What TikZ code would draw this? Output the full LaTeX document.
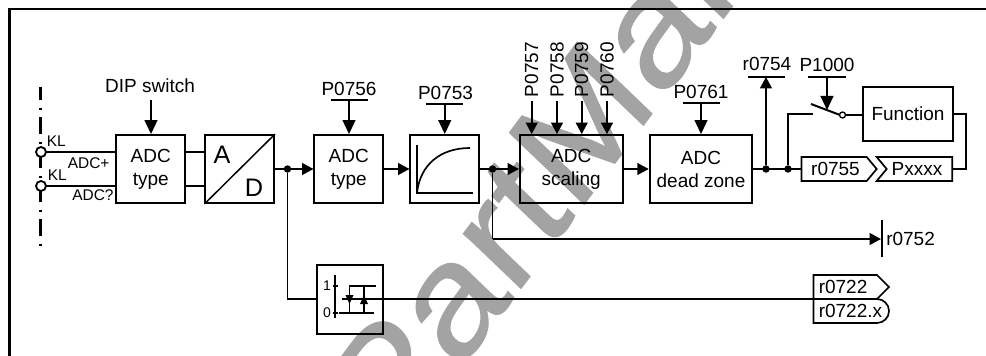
\documentclass[tikz,border=0pt]{standalone}
\usepackage{fontspec}
\setmainfont{Liberation Sans}
\newfontfamily\wmf[FakeBold=0.8]{Liberation Sans}
\usetikzlibrary{arrows.meta,calc}
\newcommand{\fnorm}{\fontsize{14.25}{17.25}\selectfont}
\newcommand{\fsmall}{\fontsize{11.6}{14}\selectfont}
\newcommand{\flarge}{\fontsize{19}{22}\selectfont}
\tikzset{
  wire/.style={line width=1.25pt},
  fblock/.style={draw,line width=1.4pt,inner sep=0pt,align=center,font=\fnorm,minimum height=51pt},
  lab/.style={inner sep=0pt,font=\fnorm},
  slab/.style={inner sep=0pt,font=\fsmall},
  arr/.style={wire,-{Triangle[length=8.5pt,width=8.8pt]}},
  arb/.style={wire,-{Triangle[length=10.5pt,width=9.6pt]}},
  bar/.style={wire},
  dotj/.style={circle,fill=black,inner sep=0pt,minimum size=5.6pt},
  term/.style={circle,draw,fill=white,line width=1.4pt,inner sep=0pt,minimum size=7.5pt},
  tagline/.style={line width=1.25pt,line join=miter},
  wmark/.style={inner sep=0pt,text=black!36,font=\wmf\fontsize{113}{113}\selectfont},
}
\begin{document}
\begin{tikzpicture}[x=0.75pt,y=-0.75pt]
\useasboundingbox (0,0) rectangle (986,356);
% watermark
\begin{scope}[shift={(390,463)},cm={.672,.896,-.72,.69,(0,0)},transform shape]
\node[wmark,anchor=base west] (wm) at (0,0) {PartMan};
\end{scope}
% frame
\coordinate (fb) at (9.5,356); \coordinate (fc) at (9.5,9); \coordinate (fr) at (986,9);
\draw[line width=1.9pt] (fb) -- (fc) -- (fr);
% dash-dot terminal line
\coordinate (dt) at (40.5,87); \coordinate (db) at (40.5,248);
\draw[line width=1.6pt,dash pattern=on 13pt off 5.5pt on 1.5pt off 5.5pt,dash phase=3pt] (dt) -- (db);
% blocks
\node[fblock,minimum width=51.5pt] (adc1) at (150.75,169) {ADC\\type};
\node[fblock,minimum width=51.5pt] (ad) at (239.75,169) {};
\node[fblock,minimum width=51.5pt] (adc2) at (348.75,169) {ADC\\type};
\node[fblock,minimum width=51.5pt] (curve) at (444.75,169) {};
\node[fblock,minimum width=77pt] (scal) at (571.25,169) {ADC\\scaling};
\node[fblock,minimum width=77pt] (dead) at (701,169) {ADC\\dead zone};
\node[fblock,minimum width=67pt,minimum height=40.5pt] (func) at (908,114) {Function};
\node[fblock,minimum width=49.5pt,minimum height=51.5pt] (hyst) at (350,299.5) {};
% A/D
\draw[line width=1.1pt] (ad.south west) -- (ad.north east);
\node[inner sep=0pt,font=\flarge] (la) at (222,155) {A};
\node[inner sep=0pt,font=\flarge] (ld) at (254,187.5) {D};
% curve icon
\coordinate (co) at (417,193); \coordinate (cy) at (417,145); \coordinate (cx) at (473,193); \coordinate (ce) at (470,148);
\draw[wire] (cy) -- (co) -- (cx);
\draw[wire] (co) .. controls (420,165) and (440,148) .. (ce);
% terminals
\coordinate (t1) at (41,152); \coordinate (t2) at (41,186);
\draw[wire] (t1) -- (adc1.west |- t1);
\draw[wire] (t2) -- (adc1.west |- t2);
\draw[wire] (adc1.east |- t1) -- (ad.west |- t1);
\draw[wire] (adc1.east |- t2) -- (ad.west |- t2);
\node[term] (k1) at (t1) {};
\node[term] (k2) at (t2) {};
\node[slab,anchor=west] (kl1) at (46.5,141.5) {KL};
\node[slab,anchor=west] (kl2) at (47.5,175.5) {KL};
\node[slab,anchor=west] (ap) at (67.5,163) {ADC+};
\node[slab,anchor=west] (am) at (72,195.5) {ADC?};
% main chain
\node[dotj] (j1) at (287.5,169) {};
\node[dotj] (j2) at (492.5,169) {};
\node[dotj] (j3) at (766,169) {};
\node[dotj] (j4) at (788,169) {};
\draw[arr] (ad.east) -- (adc2.west);
\draw[arr] (adc2.east) -- (curve.west);
\draw[arr] (curve.east) -- (scal.west);
\draw[arr] (scal.east) -- (dead.west);
% top inputs
\node[lab] (dip) at (150,86) {DIP switch};
\coordinate (dipa) at (151,100);
\draw[arb] (dipa) -- (dipa |- adc1.north);
\node[lab] (p756) at (349,89) {P0756};
\draw[bar] (330.5,100) -- (367.5,100);
\coordinate (b1) at (349,100);
\draw[arb] (b1) -- (b1 |- adc2.north);
\node[lab] (p753) at (445.5,93) {P0753};
\draw[bar] (426,104) -- (463,104);
\coordinate (b2) at (444.75,104);
\draw[arb] (b2) -- (b2 |- curve.north);
\foreach \n/\x in {P0757/531.7,P0758/557,P0759/581.7,P0760/607}{
  \node[lab,rotate=90,anchor=west] (\n) at (\x,97.5) {\n};
  \coordinate (a\n) at (\x,101);
  \draw[arr] (a\n) -- (a\n |- scal.north);
}
\node[lab] (p761) at (701,92) {P0761};
\draw[bar] (683,103) -- (720,103);
\coordinate (b3) at (701,103);
\draw[arb] (b3) -- (b3 |- dead.north);
% r0754
\node[lab] (r754) at (767,64) {r0754};
\draw[bar] (748,77) -- (785,77);
\coordinate (b4) at (766,77);
\draw[arr] (j3) -- (b4);
% tags
\draw[tagline] (801.5,157) -- (866.7,157) -- (876.7,169) -- (866.7,181) -- (801.5,181) -- cycle;
\draw[tagline] (876.7,157) -- (952.3,157) -- (952.3,181) -- (876.7,181) -- (886.7,169) -- cycle;
\node[lab] (r755) at (835.5,169) {r0755};
\node[lab] (pxx) at (917,169) {Pxxxx};
\coordinate (r755w) at (801.5,169); \coordinate (pxxe) at (952.3,169);
\draw[wire] (dead.east) -- (r755w);
% switch
\coordinate (sw0) at (813,114); \coordinate (sw1) at (811,104); \coordinate (sw2) at (840,115);
\draw[wire] (j4) -- (j4 |- sw0) -- (sw0);
\draw[line width=1.5pt] (sw1) -- (sw2);
\node[circle,draw,fill=white,line width=1pt,inner sep=0pt,minimum size=4.5pt] (swc) at (842.5,115) {};
\draw[wire] (swc) -- (swc -| func.west);
\node[lab] (p1000) at (827,65) {P1000};
\draw[bar] (808,77) -- (846,77);
\coordinate (b5) at (827,77);
\draw[arb] (b5) -- (827,110);
\coordinate (fo) at (966,114);
\draw[wire] (func.east) -- (fo) -- (fo |- pxxe) -- (pxxe);
% r0752
\coordinate (k0) at (492.5,239); \coordinate (k1e) at (881,239);
\draw[wire] (j2) -- (k0);
\draw[arr] (k0) -- (k1e);
\coordinate (bt) at (882,220); \coordinate (bb) at (882,257);
\draw[line width=1.3pt] (bt) -- (bb);
\node[lab,anchor=west] (r752) at (886,239) {r0752};
% hysteresis path
\coordinate (h0) at (287.5,299);
\draw[wire] (j1) -- (h0) -- (h0 -| hyst.west);
\coordinate (hs) at (342,299); \coordinate (he) at (813.5,299);
\draw[wire] (hs) -- (he);
\draw[line width=.8pt] (335,275) -- (335,318);
\draw[line width=.8pt] (333,286) -- (338,286);
\draw[line width=.8pt] (333,313) -- (338,313);
\node[inner sep=0pt,font=\fontsize{10.5}{12}\selectfont] (h1) at (327,285.5) {1};
\node[inner sep=0pt,font=\fontsize{10.5}{12}\selectfont] (h00) at (327,313) {0};
\draw[wire] (376,286) -- (349.5,286) -- (349.5,313);
\draw[wire] (364,286) -- (364,313);
\draw[wire] (339,313) -- (374,313);
\fill (345.5,295) -- (353.5,295) -- (349.5,304) -- cycle;
\fill (360,304) -- (368,304) -- (364,295) -- cycle;
% output tags
\draw[tagline] (813.5,275) -- (877,275) -- (889,287) -- (877,299) -- (813.5,299) -- cycle;
\draw[tagline] (813.5,299) -- (877,299) arc[start angle=-90,end angle=90,radius=12] -- (813.5,323) -- cycle;
\node[lab,anchor=west] (r722) at (818.5,287) {r0722};
\node[lab,anchor=west] (r722x) at (818.5,311) {r0722.x};
\end{tikzpicture}
\end{document}
